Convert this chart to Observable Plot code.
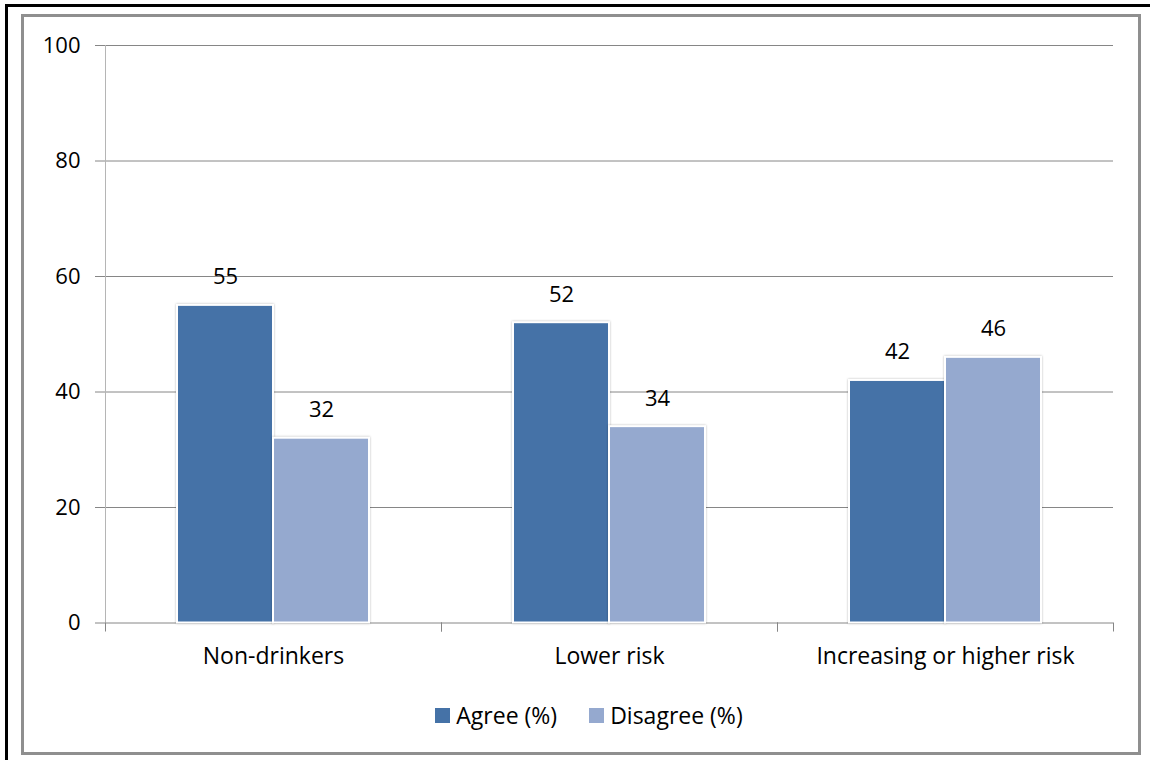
<!DOCTYPE html>
<html>
<head>
<meta charset="utf-8">
<script src="https://cdn.jsdelivr.net/npm/d3@7"></script>
<script src="https://cdn.jsdelivr.net/npm/@observablehq/plot@0.6"></script>
<style>
  html, body { margin: 0; padding: 0; width: 1150px; height: 760px; overflow: hidden; background: #fff; font-family: "Open Sans", sans-serif; }
  #outer { position: absolute; left: 5px; top: 4px; width: 1200px; height: 800px; border: 3px solid #000; box-sizing: border-box; }
  #panel { position: absolute; left: 21px; top: 14px; width: 1120px; height: 741px; border: 3px solid #8f8f8f; box-sizing: border-box; background: #fff; }
  #chart { position: absolute; left: 0; top: 0; }
  #chart g[aria-label="bar"] rect { filter: drop-shadow(0 0 1.2px rgba(0, 0, 0, 0.28)); }
  #legend { position: absolute; left: 29px; width: 1120px; top: 699px; display: flex; justify-content: center; align-items: center; font-size: 23px; color: #000; }
  #legend .item { display: flex; align-items: center; margin: 0 16px; }
  #legend .sw { width: 15px; height: 15px; margin-right: 6px; }
</style>
</head>
<body>
<div id="outer"></div>
<div id="panel"></div>
<div id="chart"></div>
<div id="legend"></div>
<script>
// Survey responses by drinking category
const categories = ["Non-drinkers", "Lower risk", "Increasing or higher risk"];
const series = ["Agree (%)", "Disagree (%)"];
const agree = [55, 52, 42];
const disagree = [32, 34, 46];
const colors = ["#4572a7", "#95a9cf"];
const yTicks = [0, 20, 40, 60, 80, 100];

const rows = categories.flatMap((c, i) => [
  {category: c, series: series[0], value: agree[i]},
  {category: c, series: series[1], value: disagree[i]}
]);

// layout
const W = 1150, H = 680, mt = 45, mb = 57.5, ml = 105, mr = 37;
const halfBand = (W - ml - mr) / categories.length / 2;
const gridColor = "#868686";

const chart = Plot.plot({
  width: W,
  height: H,
  marginTop: mt,
  marginBottom: mb,
  marginLeft: ml,
  marginRight: mr,
  style: {fontFamily: "Open Sans", fontSize: "22px", color: "#000", background: "transparent", overflow: "visible"},
  fx: {domain: categories, padding: 0, label: null, axis: null},
  x: {domain: series, paddingInner: 0, paddingOuter: 0.75, axis: null},
  y: {domain: [0, 100], label: null, axis: null},
  color: {domain: series, range: colors},
  marks: [
    Plot.ruleY(yTicks, {stroke: gridColor, strokeWidth: 1}),
    // vertical axis line in the first panel
    Plot.ruleX([categories[0]], {fx: d => d, x: null, dx: -halfBand, stroke: "#b5b5b5"}),
    // category boundary ticks below the baseline
    Plot.ruleX(categories, {fx: d => d, x: null, y1: 0, y2: 0, insetBottom: -9, dx: -halfBand, stroke: gridColor}),
    Plot.ruleX(categories, {fx: d => d, x: null, y1: 0, y2: 0, insetBottom: -9, dx: halfBand, stroke: gridColor}),
    Plot.barY(rows, {fx: "category", x: "series", y: "value", fill: "series", stroke: "#fff", strokeWidth: 2}),
    Plot.text(rows, {fx: "category", x: "series", y: "value", text: d => String(d.value), dy: -28, fontSize: 22, fill: "#000"}),
    Plot.axisY({ticks: yTicks, tickSize: 10, tickPadding: 15, stroke: gridColor, fontSize: 22, label: null}),
    Plot.axisFx({anchor: "bottom", tickSize: 0, tickPadding: 25, fontSize: 23, label: null})
  ]
});
document.getElementById("chart").appendChild(chart);

// legend
const legend = document.getElementById("legend");
series.forEach((s, i) => {
  const item = document.createElement("span");
  item.className = "item";
  const sw = document.createElement("span");
  sw.className = "sw";
  sw.style.background = colors[i];
  const label = document.createElement("span");
  label.textContent = s;
  item.appendChild(sw);
  item.appendChild(label);
  legend.appendChild(item);
});
</script>
</body>
</html>
